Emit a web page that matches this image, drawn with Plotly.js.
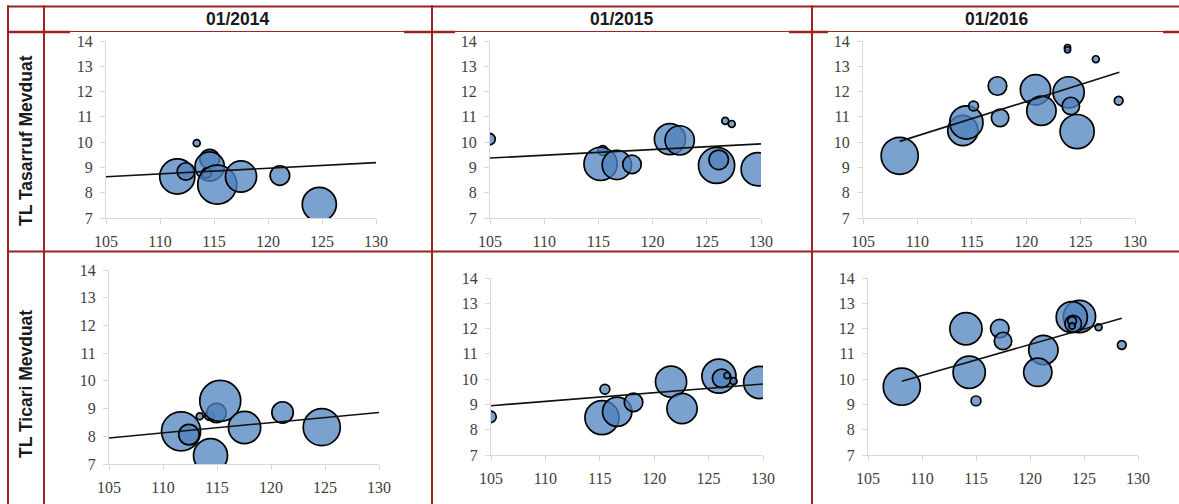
<!DOCTYPE html>
<html>
<head>
<meta charset="utf-8">
<script src="https://cdn.plot.ly/plotly-3.0.1.min.js"></script>
<style>
  html, body { margin: 0; padding: 0; background: #ffffff; }
  #chart { width: 1179px; height: 504px; }
</style>
</head>
<body>
<div id="chart"></div>
<script>
// Column headers (periods) and row headers (deposit types)
const periods = ["01/2014", "01/2015", "01/2016"];
const depositTypes = ["TL Tasarruf Mevduat", "TL Ticari Mevduat"];

// Axis ranges and ticks shared by all panels
const xTicks = [105, 110, 115, 120, 125, 130];
const yTicks = [7, 8, 9, 10, 11, 12, 13, 14];

// TL Tasarruf Mevduat, 01/2014
const sav14X = [113.4, 111.6, 112.4, 114.6, 114.6, 114.3, 115.3, 117.5, 121.1, 124.75];
const sav14Y = [9.96, 8.64, 8.84, 9.33, 9.04, 8.78, 8.32, 8.64, 8.68, 7.54];
const sav14S = [5, 130, 32, 40, 90, 10, 160, 102, 40, 122];
const sav14TrendX = [105, 130];
const sav14TrendY = [8.63, 9.19];

// TL Tasarruf Mevduat, 01/2015
const sav15X = [104.95, 115.4, 115.2, 116.7, 118.1, 121.6, 122.5, 125.9, 126.1, 126.7, 127.3, 129.7];
const sav15Y = [10.12, 9.67, 9.14, 9.10, 9.12, 10.12, 10.07, 9.08, 9.30, 10.84, 10.72, 8.93];
const sav15S = [14, 10, 116, 90, 36, 102, 90, 137, 40, 5, 5, 116];
const sav15TrendX = [105, 130];
const sav15TrendY = [9.37, 9.93];

// TL Tasarruf Mevduat, 01/2016
const sav16X = [108.37, 114.18, 114.5, 115.16, 117.36, 117.6, 120.85, 121.4, 123.9, 124.1, 124.68, 123.8, 123.8, 126.4, 128.5];
const sav16Y = [9.46, 10.46, 10.78, 11.43, 12.22, 10.96, 12.07, 11.24, 11.97, 11.43, 10.42, 13.74, 13.65, 13.28, 11.64];
const sav16S = [144, 96, 116, 10, 36, 32, 96, 90, 102, 32, 122, 4, 4, 5, 8];
const sav16TrendX = [108.37, 128.56];
const sav16TrendY = [10.03, 12.76];

// TL Ticari Mevduat, 01/2014
const com14X = [111.67, 112.4, 113.4, 114.3, 114.95, 115.3, 114.4, 117.55, 121.07, 124.7];
const com14Y = [8.18, 8.06, 8.72, 8.75, 8.84, 9.28, 7.30, 8.32, 8.86, 8.33];
const com14S = [160, 44, 5, 10, 40, 176, 122, 109, 48, 144];
const com14TrendX = [105, 130];
const com14TrendY = [7.94, 8.86];

// TL Ticari Mevduat, 01/2015
const com15X = [104.95, 115.47, 115.2, 116.6, 118.1, 121.55, 122.56, 125.95, 126.2, 126.7, 127.3, 129.7];
const com15Y = [8.51, 9.60, 8.48, 8.71, 9.08, 9.90, 8.84, 10.12, 10.03, 10.14, 9.92, 9.87];
const com15S = [14, 10, 122, 90, 36, 102, 96, 122, 36, 4, 5, 109];
const com15TrendX = [105, 130];
const com15TrendY = [8.95, 9.81];

// TL Ticari Mevduat, 01/2016
const com16X = [108.13, 114.07, 114.37, 115.0, 117.2, 117.5, 121.24, 120.72, 124.58, 123.87, 124.0, 123.9, 123.9, 126.35, 128.5];
const com16Y = [9.70, 11.99, 10.27, 9.14, 12.00, 11.51, 11.15, 10.27, 12.48, 12.45, 12.19, 12.30, 12.10, 12.05, 11.35];
const com16S = [144, 109, 109, 10, 36, 32, 90, 84, 109, 102, 29, 8, 4, 5, 8];
const com16TrendX = [108.13, 128.5];
const com16TrendY = [9.92, 12.41];

const W = 1179, H = 504;
const fx = v => v / W;
const fy = v => 1 - v / H;

// plot-area boxes in pixels: [left, right, top, bottom]
const boxes = [
  [106, 376, 41, 218],
  [490, 761, 41, 218],
  [863, 1135, 41, 218],
  [109, 379, 270, 464],
  [491, 763, 278, 455],
  [868, 1138, 278, 455]
];

const panels = [
  [sav14X, sav14Y, sav14S, sav14TrendX, sav14TrendY],
  [sav15X, sav15Y, sav15S, sav15TrendX, sav15TrendY],
  [sav16X, sav16Y, sav16S, sav16TrendX, sav16TrendY],
  [com14X, com14Y, com14S, com14TrendX, com14TrendY],
  [com15X, com15Y, com15S, com15TrendX, com15TrendY],
  [com16X, com16Y, com16S, com16TrendX, com16TrendY]
];

const bubbleFill = "rgba(79,129,189,0.75)";
const tickFont = { family: "Liberation Serif, Times New Roman, serif", size: 16, color: "#404040" };

const traces = [];
const layout = {
  width: W, height: H,
  margin: { l: 0, r: 0, t: 0, b: 0 },
  paper_bgcolor: "#ffffff",
  plot_bgcolor: "rgba(0,0,0,0)",
  showlegend: false,
  shapes: [],
  annotations: []
};

panels.forEach((p, i) => {
  const n = i + 1;
  const xa = "x" + (n === 1 ? "" : n);
  const ya = "y" + (n === 1 ? "" : n);
  traces.push({
    type: "scatter", mode: "markers",
    x: p[0], y: p[1],
    xaxis: xa, yaxis: ya,
    hoverinfo: "skip",
    marker: {
      size: p[2], sizemode: "area", sizeref: 0.21,
      opacity: 1,
      color: bubbleFill,
      line: { color: "#000000", width: 1.7 }
    }
  });
  traces.push({
    type: "scatter", mode: "lines",
    x: p[3], y: p[4],
    xaxis: xa, yaxis: ya,
    hoverinfo: "skip",
    line: { color: "#111111", width: 1.6 }
  });
  const b = boxes[i];
  const axCommon = {
    showgrid: false, zeroline: false,
    showline: true, linecolor: "#d9d9d9", linewidth: 1,
    ticks: "outside", ticklen: 5, tickcolor: "#d9d9d9", tickwidth: 1,
    tickfont: tickFont, fixedrange: true
  };
  layout["xaxis" + (n === 1 ? "" : n)] = Object.assign({}, axCommon, {
    domain: [fx(b[0]), fx(b[1])],
    range: [xTicks[0], xTicks[xTicks.length - 1]],
    tickvals: xTicks, ticktext: xTicks.map(String),
    anchor: ya, ticklabelstandoff: 4
  });
  layout["yaxis" + (n === 1 ? "" : n)] = Object.assign({}, axCommon, {
    domain: [fy(b[3]), fy(b[2])],
    range: [yTicks[0], yTicks[yTicks.length - 1]],
    tickvals: yTicks, ticktext: yTicks.map(String),
    anchor: xa, ticklabelstandoff: 4
  });
});

// table frame
const frame = "#9b2323";
function hline(y, x0, x1, w) {
  layout.shapes.push({ type: "line", xref: "paper", yref: "paper", x0: fx(x0), x1: fx(x1), y0: fy(y), y1: fy(y), line: { color: frame, width: w } });
}
function vline(x, y0, y1, w) {
  layout.shapes.push({ type: "line", xref: "paper", yref: "paper", x0: fx(x), x1: fx(x), y0: fy(y0), y1: fy(y1), line: { color: frame, width: w } });
}
hline(6.5, 7, W, 2);
hline(31.5, 7, W, 1);
hline(32, 7, 70, 2.5);
hline(32, 404, 455, 2.5);
hline(32, 789, 828, 2.5);
hline(32, 1163, W, 2.5);
hline(251.5, 7, W, 2);
[8, 44, 432, 812].forEach(x => vline(x, 5.5, H, 2));

// column headers
const headerX = [238, 622, 997];
periods.forEach((t, i) => {
  layout.annotations.push({
    text: "<b>" + t + "</b>", xref: "paper", yref: "paper",
    x: fx(headerX[i]), y: fy(19), xanchor: "center", yanchor: "middle",
    showarrow: false,
    font: { family: "Liberation Sans, Arial, sans-serif", size: 17.5, color: "#1a1a1a" }
  });
});

// row headers
const rowY = [141, 384];
depositTypes.forEach((t, i) => {
  layout.annotations.push({
    text: "<b>" + t + "</b>", xref: "paper", yref: "paper",
    x: fx(26), y: fy(rowY[i]), xanchor: "center", yanchor: "middle",
    textangle: -90, showarrow: false,
    font: { family: "Liberation Sans, Arial, sans-serif", size: 17.5, color: "#1a1a1a" }
  });
});

Plotly.newPlot("chart", traces, layout, { staticPlot: true, displayModeBar: false });
</script>
</body>
</html>
